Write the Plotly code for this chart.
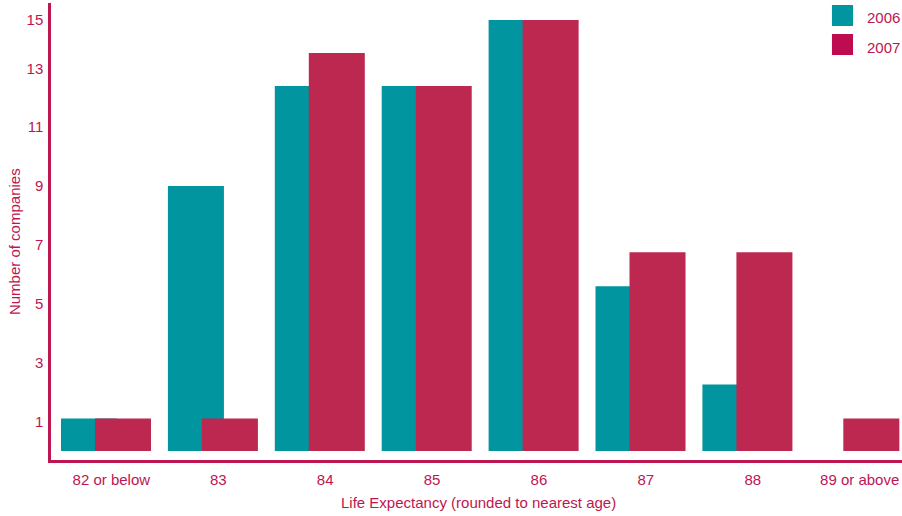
import plotly.graph_objects as go

# Life expectancy bands and company counts per year
categories = ["82 or below", "83", "84", "85", "86", "87", "88", "89 or above"]
companies_2006 = [1.1, 9.0, 12.4, 12.4, 14.64, 5.6, 2.26, 0]
companies_2007 = [1.1, 1.1, 13.52, 12.4, 14.64, 6.75, 6.75, 1.1]
y_tick_labels = ["1", "3", "5", "7", "9", "11", "13", "15"]
y_tick_values = [1, 3, 5, 7, 9, 11, 13, 14.64]

TEAL = "#00959F"
CRIMSON = "#BC2850"
LEGEND_CRIMSON = "#BD0C4F"
TEXT = "#BE1650"
FONT = "Liberation Sans, Arial, Helvetica, sans-serif"

x_pos = list(range(len(categories)))
bar_width = 0.524

fig = go.Figure()
fig.add_trace(go.Bar(
    x=x_pos, y=companies_2006, name="2006",
    marker=dict(color=TEAL, line=dict(width=0)),
    width=bar_width, offset=-0.421, showlegend=False,
))
fig.add_trace(go.Bar(
    x=x_pos, y=companies_2007, name="2007",
    marker=dict(color=CRIMSON, line=dict(width=0)),
    width=bar_width, offset=-0.103, showlegend=False,
))

# Hand-placed legend: coloured squares with year labels
legend_items = [("2006", TEAL, 0.9956, 0.9497, 0.9683),
                ("2007", LEGEND_CRIMSON, 0.9322, 0.8862, 0.9026)]
shapes = []
annotations = []
for label, color, y_top, y_bot, y_text in legend_items:
    shapes.append(dict(type="rect", xref="paper", yref="paper",
                       x0=0.9177, x1=0.9424, y0=y_bot, y1=y_top,
                       fillcolor=color, line=dict(width=0)))
    annotations.append(dict(text=label, xref="paper", yref="paper",
                            x=0.9988, y=y_text, xanchor="right", yanchor="middle",
                            borderpad=0, showarrow=False,
                            font=dict(size=15, color=TEXT, family=FONT)))

annotations.append(dict(text="Number of companies", xref="paper", yref="paper",
                        x=-0.0435, y=0.479, textangle=-90,
                        xanchor="center", yanchor="middle", showarrow=False,
                        font=dict(size=15, color=TEXT, family=FONT)))
annotations.append(dict(text="Life Expectancy (rounded to nearest age)",
                        xref="paper", yref="paper", x=0.5023, y=-0.094,
                        xanchor="center", yanchor="middle", showarrow=False,
                        font=dict(size=15, color=TEXT, family=FONT)))

fig.update_layout(
    width=902, height=516,
    margin=dict(l=51, r=0, t=3, b=56),
    paper_bgcolor="white", plot_bgcolor="white",
    barmode="overlay",
    font=dict(family=FONT, size=15, color=TEXT),
    shapes=shapes, annotations=annotations,
    xaxis=dict(
        range=[-0.5145, 7.446],
        tickvals=[p + 0.05 for p in x_pos], ticktext=categories,
        showgrid=False, zeroline=False,
        showline=True, linecolor=TEXT, linewidth=2.5,
        ticks="outside", ticklen=4, tickcolor="rgba(0,0,0,0)",
        tickfont=dict(size=15, color=TEXT, family=FONT),
    ),
    yaxis=dict(
        range=[-0.306, 15.22],
        tickvals=y_tick_values, ticktext=y_tick_labels,
        showgrid=False, zeroline=False,
        showline=True, linecolor=TEXT, linewidth=2.5,
        ticks="outside", ticklen=2, tickcolor="rgba(0,0,0,0)",
        tickfont=dict(size=15, color=TEXT, family=FONT),
    ),
)

fig.write_html("out.html")
